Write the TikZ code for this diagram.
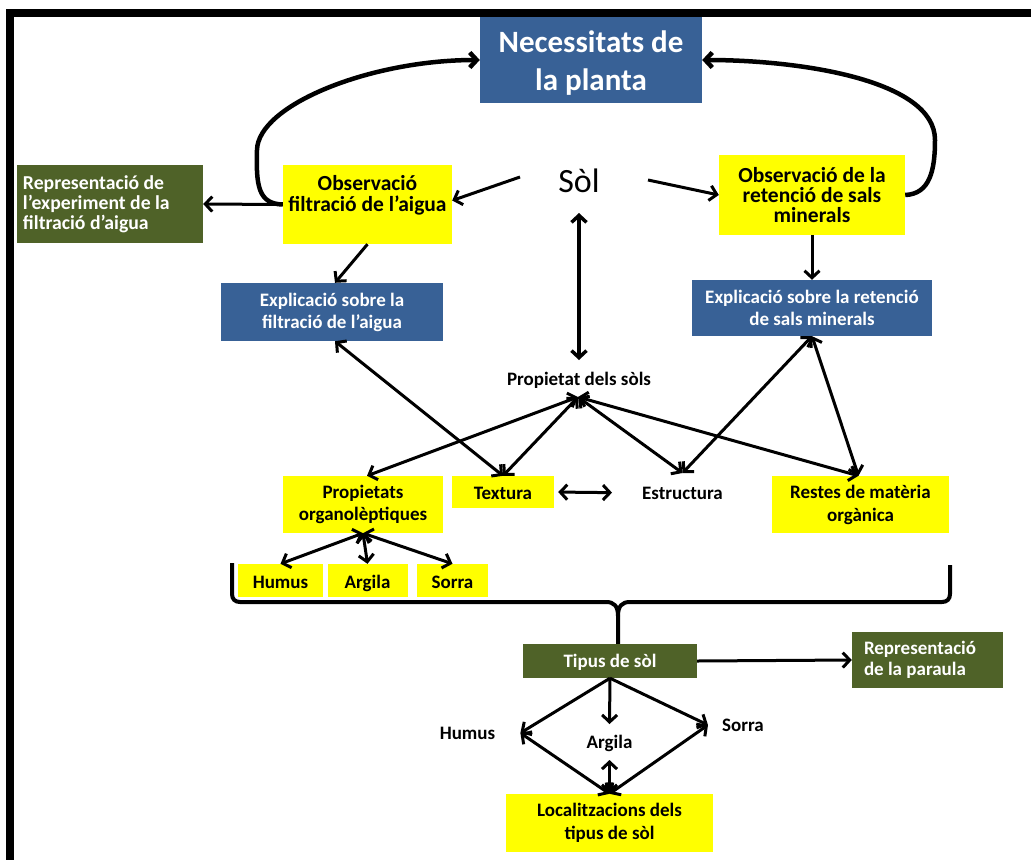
\documentclass[tikz,border=0pt]{standalone}
\usepackage{fontspec}
\setmainfont{Carlito}
\usetikzlibrary{arrows.meta}
\definecolor{nblue}{RGB}{56,97,150}
\definecolor{ngreen}{RGB}{79,98,40}
\definecolor{nyellow}{RGB}{255,255,0}
\tikzset{
  barb/.tip={Straight Barb[length=7pt,width=15pt]},
  box/.style={rectangle, inner sep=0pt, align=center, font=\bfseries\fontsize{19}{22}\selectfont},
  bluebox/.style={box, fill=nblue, text=white},
  greenbox/.style={box, fill=ngreen, text=white},
  yellowbox/.style={box, fill=nyellow, text=black},
  wordbox/.style={yellowbox, minimum height=33pt, text height=15pt, text depth=0pt},
  lbl/.style={inner sep=0pt, font=\bfseries\fontsize{19}{22}\selectfont},
  conn/.style={line width=3pt, -barb},
  twoway/.style={line width=3pt, barb-barb},
  curvearrow/.style={line width=4.5pt, -barb},
  braceline/.style={line width=4pt},
}
\begin{document}
\begin{tikzpicture}[x=1pt,y=-1pt]
\useasboundingbox (0,0) rectangle (1031,860);
\fill[white] (0,0) rectangle (1031,860);
% frame
\fill[black] (6,9) rectangle (1031,17);
\fill[black] (6,9) rectangle (14,860);

% boxes and labels
\node[bluebox, minimum width=222pt, minimum height=86pt] (nec) at (591,60) {};
\node[lbl, align=center, text=white, font=\bfseries\fontsize{31}{38}\selectfont] (nectext) at (591,63.5) {Necessitats de\\la planta};
\node[greenbox, minimum width=186pt, minimum height=78pt] (repexp) at (110,204) {};
\node[lbl, anchor=west, align=left, text=white, font=\bfseries\fontsize{19.7}{20}\selectfont] (repexptext) at ([xshift=6pt]repexp.west) {Representació de\\l’experiment de la\\filtració d’aigua};
\node[yellowbox, minimum width=169pt, minimum height=79pt] (obsf) at (367.5,204.5) {};
\node[lbl, align=center, font=\bfseries\fontsize{21.5}{21}\selectfont] (obsftext) at (367.5,195.5) {Observació\\filtració de l’aigua};
\node[inner sep=0pt, font=\fontsize{34}{40}\selectfont] (sol) at (579,181) {Sòl};
\node[yellowbox, minimum width=186pt, minimum height=80pt, font=\bfseries\fontsize{21.5}{20}\selectfont] (obsr) at (812,195) {Observació de la\\retenció de sals\\minerals};
\node[bluebox, minimum width=222pt, minimum height=58pt] (explf) at (332,312) {Explicació sobre la\\filtració de l’aigua};
\node[bluebox, minimum width=240pt, minimum height=56pt] (explr) at (812,308) {Explicació sobre la retenció\\de sals minerals};
\node[lbl] (prop) at (579,380) {Propietat dels sòls};
\node[yellowbox, minimum width=160pt, minimum height=57pt] (org) at (363,504.5) {Propietats\\organolèptiques};
\node[wordbox, minimum width=102pt, minimum height=32pt] (tex) at (503,492) {Textura};
\node[lbl] (estr) at (682.5,493) {Estructura};
\node[yellowbox, minimum width=177pt, minimum height=57pt, font=\bfseries\fontsize{19}{23}\selectfont] (restes) at (860.5,504.5) {Restes de matèria\\orgànica};
\node[wordbox, minimum width=85pt] (humus) at (280.5,580.5) {Humus};
\node[wordbox, minimum width=80pt] (argila) at (367.5,580.5) {Argila};
\node[wordbox, minimum width=71pt] (sorra) at (452.5,580.5) {Sorra};
\node[greenbox, minimum width=174pt, minimum height=34pt, text height=14pt, text depth=2pt] (tipus) at (610,661) {Tipus de sòl};
\node[greenbox, minimum width=151pt, minimum height=56pt] (repp) at (927.5,660) {};
\node[lbl, anchor=west, align=left, text=white, font=\bfseries\fontsize{19}{21}\selectfont] (repptext) at ([xshift=12pt]repp.west) {Representació\\de la paraula};
\node[lbl] (humL) at (467.5,733) {Humus};
\node[lbl] (argL) at (609.5,743) {Argila};
\node[lbl] (sorL) at (743,725) {Sorra};
\node[yellowbox, minimum width=207pt, minimum height=58pt, font=\bfseries\fontsize{19}{23}\selectfont] (loc) at (609.5,823) {Localitzacions dels\\tipus de sòl};

% free ends
\coordinate (solL) at (520,177);
\coordinate (solR) at (648,180);
\coordinate (hub) at (578,397);

% top loops back to the plant's needs
\draw[curvearrow] (obsf.west) .. controls (258,204) and (256,185) .. (257,150) .. controls (258,105) and (370,60) .. (nec.west);
\draw[curvearrow] (obsr.east) .. controls (930,194) and (935,170) .. (935,140) .. controls (935,80) and (800,60) .. (nec.east);

% upper connectors
\draw[conn] (obsf.west) -- (repexp.east);
\draw[conn] (solL) -- ([yshift=4pt]obsf.east);
\draw[conn] (solR) -- (obsr.west);
\draw[conn] (obsf.south) -- ([xshift=3pt]explf.north);
\draw[conn] (obsr.south) -- (explr.north);
\draw[twoway, line width=3.5pt] ([yshift=-32pt]sol.center) -- ([yshift=20pt]prop.center);

% soil properties
\draw[twoway] (hub) -- ([xshift=4pt]org.north);
\draw[twoway] (hub) -- (tex.north);
\draw[twoway] (hub) -- ([yshift=20pt]estr.center);
\draw[twoway] (hub) -- ([xshift=-2pt]restes.north);
\draw[twoway] ([xshift=3pt]explf.south) -- (tex.north);
\draw[twoway] (explr.south) -- ([yshift=20pt]estr.center);
\draw[twoway] (explr.south) -- ([xshift=-2pt]restes.north);
\draw[twoway, shorten <=4pt, shorten >=30pt] (tex.east) -- (estr.west);
\draw[twoway] (org.south) -- (humus.north);
\draw[twoway] (org.south) -- (argila.north);
\draw[twoway] (org.south) -- (sorra.north);

% brace gathering everything into the soil types
\draw[braceline] (232,563) -- (232,594) .. controls (232,599) and (235,602) .. (240,602) -- (606,602) .. controls (614,602) and (618,606) .. (618,616) -- ([xshift=8pt]tipus.north);
\draw[braceline] (950,565) -- (950,594) .. controls (950,599) and (947,602) .. (942,602) -- (630,602) .. controls (622,602) and (618,606) .. (618,616);

% soil types
\draw[conn] (tipus.east) -- (repp.west);
\draw[conn] (tipus.south) -- ([xshift=25pt]humL.east);
\draw[conn] (tipus.south) -- ([xshift=-14pt]sorL.west);
\draw[conn] (tipus.south) -- ([yshift=19pt]argL.center);
\draw[twoway] (loc.north) -- ([xshift=25pt]humL.east);
\draw[twoway] (loc.north) -- ([xshift=-14pt]sorL.west);
\draw[twoway] (loc.north) -- ([yshift=-17pt]argL.center);
\end{tikzpicture}
\end{document}
